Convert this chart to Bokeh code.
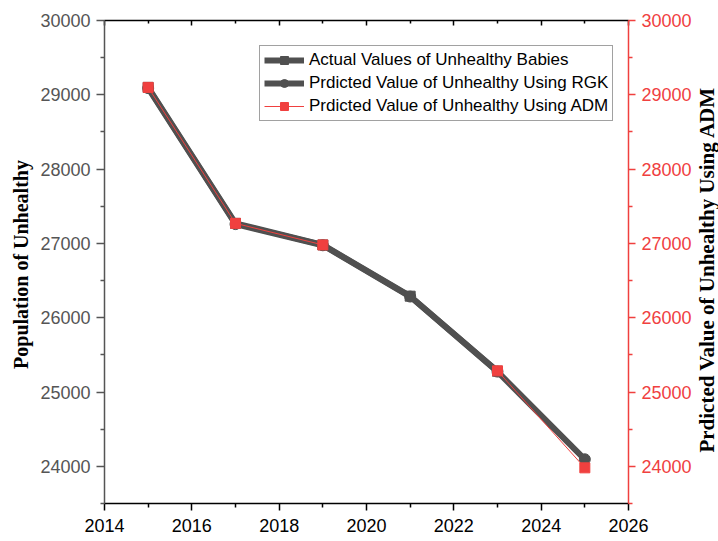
import math
from bokeh.plotting import figure
from bokeh.layouts import row
from bokeh.models import (LinearAxis, Range1d, FixedTicker, Legend, LegendItem)
from bokeh.core.properties import value
from bokeh.embed import file_html
from bokeh.resources import INLINE

years = [2015, 2017, 2019, 2021, 2023, 2025]
actual = [29100, 27270, 26980, 26290, 25280, float("nan")]
rgk = [29090, 27260, 26975, 26285, 25275, 24095]
adm = [29100, 27270, 26980, float("nan"), 25285, 23980]

x_ticks = [2014, 2016, 2018, 2020, 2022, 2024, 2026]
x_minor = [2015, 2017, 2019, 2021, 2023, 2025]
y_ticks = [24000, 25000, 26000, 27000, 28000, 29000, 30000]
y_minor = [23500, 24500, 25500, 26500, 27500, 28500, 29500]

left_title = "Population of  Unhealthy"
right_title = "Prdicted Value of Unhealthy Using ADM"

GRAY = "#505050"
RED = "#F0403F"
SANS = "Liberation Sans"
SERIF = "Liberation Serif"

TOP, FH, BOTTOM = 20, 483, 36
H = TOP + FH + BOTTOM

p = figure(frame_width=524, frame_height=FH, output_backend="svg",
           toolbar_location=None,
           x_range=Range1d(2014, 2026), y_range=Range1d(23500, 30000),
           x_axis_location=None, y_axis_location=None,
           min_border_left=104, min_border_right=66, min_border_top=TOP,
           min_border_bottom=BOTTOM)
p.outline_line_color = None
p.xgrid.visible = False
p.ygrid.visible = False
p.extra_y_ranges = {"right": Range1d(23500, 30000)}

def style_common(ax):
    ax.major_tick_line_width = 1.5
    ax.minor_tick_line_width = 1.5
    ax.axis_line_width = 1.5

# bottom axis
xb = LinearAxis(ticker=FixedTicker(ticks=x_ticks, minor_ticks=x_minor))
style_common(xb)
xb.axis_line_color = "black"
xb.major_tick_line_color = "black"
xb.minor_tick_line_color = "black"
xb.major_tick_out = 7
xb.major_tick_in = 0
xb.minor_tick_out = 4
xb.minor_tick_in = 0
xb.major_label_text_font = SANS
xb.major_label_text_font_size = "18px"
xb.major_label_text_color = "black"
xb.major_label_standoff = 8
p.add_layout(xb, "below")

# top axis (frame line with inward ticks, no labels)
xt = LinearAxis(ticker=FixedTicker(ticks=x_ticks, minor_ticks=x_minor))
style_common(xt)
xt.axis_line_color = "black"
xt.major_tick_line_color = "black"
xt.minor_tick_line_color = "black"
xt.major_tick_out = 0
xt.major_tick_in = 5
xt.minor_tick_out = 0
xt.minor_tick_in = 3
xt.major_label_overrides = {t: "" for t in x_ticks}
xt.major_label_standoff = 0
p.add_layout(xt, "above")

# left axis
yl = LinearAxis(ticker=FixedTicker(ticks=y_ticks, minor_ticks=y_minor),
                axis_label=left_title)
style_common(yl)
yl.axis_line_color = "#555555"
yl.major_tick_line_color = "#555555"
yl.minor_tick_line_color = "#555555"
yl.major_tick_out = 8
yl.major_tick_in = 0
yl.minor_tick_out = 4
yl.minor_tick_in = 0
yl.major_label_text_font = SANS
yl.major_label_text_font_size = "18px"
yl.major_label_text_color = "#555555"
yl.major_label_standoff = 6
yl.axis_label_text_font = SERIF
yl.axis_label_text_font_style = "bold"
yl.axis_label_text_font_size = "20px"
yl.axis_label_text_color = "black"
yl.axis_label_standoff = 5
p.add_layout(yl, "left")

# right axis (red)
yr = LinearAxis(y_range_name="right",
                ticker=FixedTicker(ticks=y_ticks, minor_ticks=y_minor))
style_common(yr)
yr.axis_line_color = RED
yr.major_tick_line_color = RED
yr.minor_tick_line_color = RED
yr.major_tick_out = 7
yr.major_tick_in = 0
yr.minor_tick_out = 4
yr.minor_tick_in = 0
yr.major_label_text_font = SANS
yr.major_label_text_font_size = "18px"
yr.major_label_text_color = RED
yr.major_label_standoff = 6
p.add_layout(yr, "right")

# series (RGK under, actual above, ADM on top)
l2 = p.line(years, rgk, line_color=GRAY, line_width=6)
s2 = p.scatter(years, rgk, marker="circle", size=11, fill_color=GRAY, line_color=GRAY)
l1 = p.line(years, actual, line_color=GRAY, line_width=6)
s1 = p.scatter(years, actual, marker="square", size=10, fill_color=GRAY, line_color=GRAY)
l3 = p.line(years, adm, line_color=RED, line_width=1, y_range_name="right")
s3 = p.scatter(years, adm, marker="square", size=10, fill_color=RED, line_color=RED,
               y_range_name="right")

legend = Legend(items=[
    LegendItem(label="Actual Values of Unhealthy Babies", renderers=[l1, s1]),
    LegendItem(label="Prdicted Value of Unhealthy Using RGK", renderers=[l2, s2]),
    LegendItem(label="Prdicted Value of Unhealthy Using ADM", renderers=[l3, s3]),
], location=(155, 382))
legend.label_text_font = SANS
legend.label_text_font_size = "17px"
legend.label_text_color = "black"
legend.border_line_color = "#444444"
legend.border_line_width = 1.5
legend.background_fill_color = "white"
legend.background_fill_alpha = 1
legend.glyph_width = 40
legend.glyph_height = 20
legend.spacing = 3
legend.padding = 4
legend.margin = 0
legend.label_standoff = 5
p.add_layout(legend, "center")

# narrow strip carrying the right-hand axis title, reading bottom-to-top
TW = 24
t = figure(frame_width=TW, frame_height=H, output_backend="svg",
           toolbar_location=None, x_range=Range1d(0, TW), y_range=Range1d(0, H),
           x_axis_location=None, y_axis_location=None,
           min_border_left=0, min_border_right=0, min_border_top=0,
           min_border_bottom=0)
t.outline_line_color = None
t.xgrid.visible = False
t.ygrid.visible = False
t.text(x=[12], y=[H - 249], text=[right_title], angle=math.pi / 2,
       text_align="center", text_baseline="middle",
       text_font=value(SERIF), text_font_style="bold", text_font_size="21px",
       text_color="black")

layout = row(p, t)
open("out.html", "w").write(file_html(layout, INLINE))
